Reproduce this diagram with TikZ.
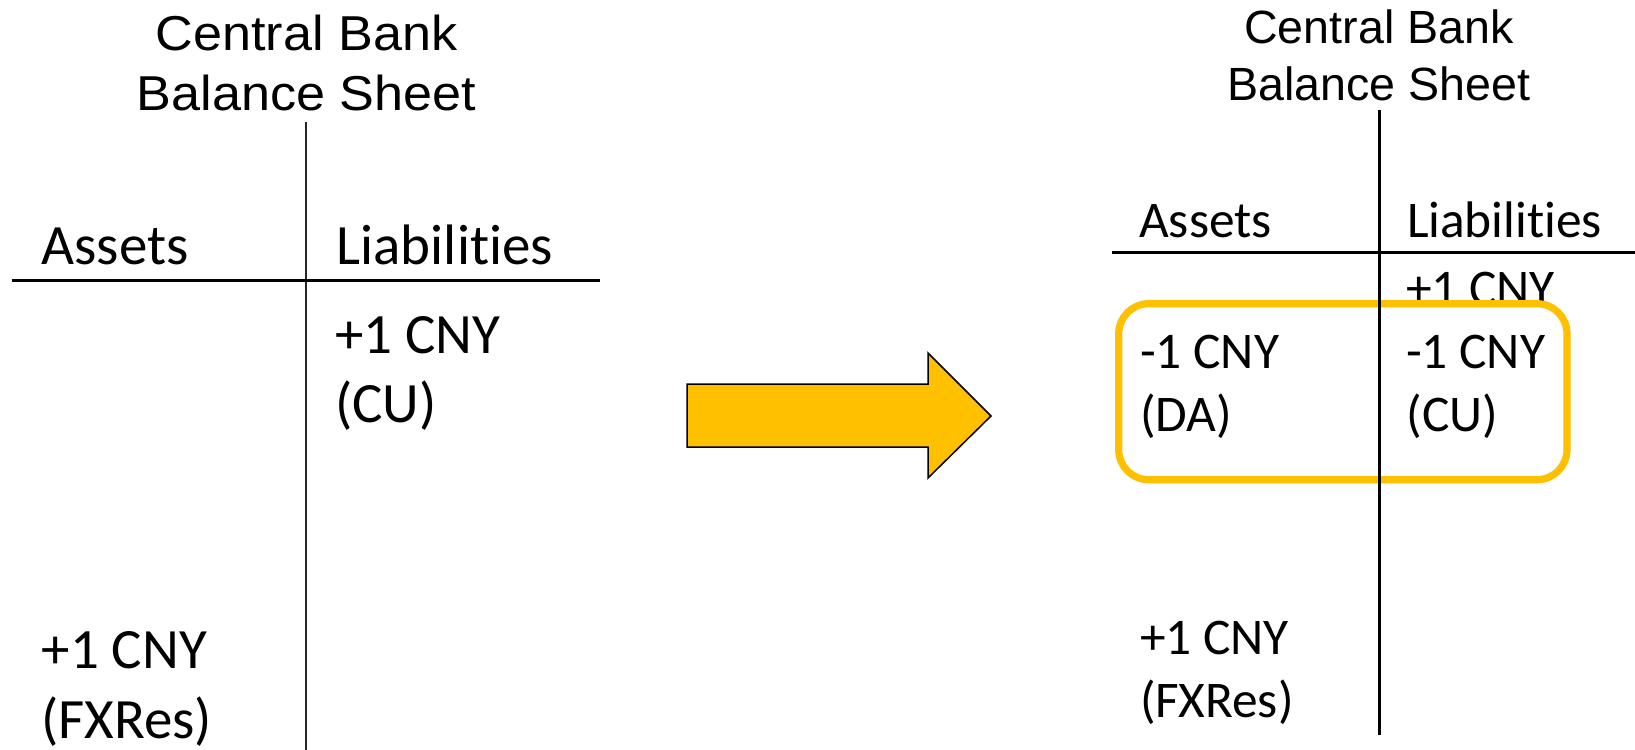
\documentclass[tikz,border=0pt]{standalone}
\usepackage{fontspec}
\setmainfont{Carlito}[Ligatures=NoCommon]
\newfontfamily\titlefont{Liberation Sans}
\definecolor{gold}{HTML}{FFC000}
\tikzset{
  txt/.style={inner sep=0pt, outer sep=0pt, anchor=base west},
  ttl/.style={inner sep=0pt, outer sep=0pt, anchor=base},
  rule/.style={line width=#1, line cap=butt},
}
% the sheet on the left is set larger, its heading a little wide
\newcommand{\bodyL}[1]{{\fontsize{28.5}{34}\selectfont #1}}
\newcommand{\titleL}[1]{\scalebox{1.065}[1]{\titlefont\fontsize{24.5}{29}\selectfont #1}}
\newcommand{\bodyR}[1]{{\fontsize{25.7}{31}\selectfont #1}}
\newcommand{\titleR}[1]{{\titlefont\fontsize{23.3}{28}\selectfont #1}}
\begin{document}
\begin{tikzpicture}[x=0.5pt,y=-0.5pt]
\fill[white] (0,0) rectangle (1635,750);
\useasboundingbox (0,0) rectangle (1635,750);

% ---------- balance sheet before ----------
\node[ttl] (lt1) at (306.5,50) {\titleL{Central Bank}};
\node[ttl] (lt2) at (306.5,110) {\titleL{Balance Sheet}};
\coordinate (lvtop) at (305.7,122);
\coordinate (lvbot) at (305.7,750);
\coordinate (lhl) at (11.7,280.7);
\coordinate (lhr) at (600,280.7);
\draw[rule=0.8pt, black!85] (lvtop) -- (lvbot);
\draw[rule=1.3pt] (lhl) -- (lhr);
\node[txt] (lassets) at (41.7,264) {\bodyL{Assets}};
\node[txt] (lliab) at (336.7,264) {\bodyL{Liabilities}};
\node[txt] (lcu1) at (335,353.5) {\bodyL{+1 CNY}};
\node[txt] (lcu2) at (335,422.5) {\bodyL{(CU)}};
\node[txt] (lfx1) at (41.7,668.3) {\bodyL{+1 CNY}};
\node[txt] (lfx2) at (41.7,738.3) {\bodyL{(FXRes)}};

% ---------- transition arrow ----------
\draw[fill=gold, draw=black, line width=0.75pt, line join=miter]
  (687,384) -- (928,384) -- (928,353) -- (991,416) -- (928,478) -- (928,447) -- (687,447) -- cycle;

% ---------- balance sheet after ----------
\node[ttl] (rt1) at (1379,43.5) {\titleR{Central Bank}};
\node[ttl] (rt2) at (1379,100) {\titleR{Balance Sheet}};
\node[txt] (rcu0) at (1406,305) {\bodyR{+1 CNY}};
% highlighted pair of entries
\draw[gold, line width=3.6pt, fill=white, rounded corners=15pt]
  (1118.7,303.7) rectangle (1567,479.7);
\coordinate (rvtop) at (1379,110);
\coordinate (rvbot) at (1379,735);
\coordinate (rhl) at (1112,252.5);
\coordinate (rhr) at (1635,252.5);
\draw[rule=1.5pt] (rvtop) -- (rvbot);
\draw[rule=1.5pt] (rhl) -- (rhr);
\node[txt] (rassets) at (1139.2,237.5) {\bodyR{Assets}};
\node[txt] (rliab) at (1407,237.5) {\bodyR{Liabilities}};
\node[txt] (rda1) at (1140,368.3) {\bodyR{-1 CNY}};
\node[txt] (rda2) at (1140,431.7) {\bodyR{(DA)}};
\node[txt] (rcu1) at (1406,368.3) {\bodyR{-1 CNY}};
\node[txt] (rcu2) at (1406.7,431.7) {\bodyR{(CU)}};
\node[txt] (rfx1) at (1140,654) {\bodyR{+1 CNY}};
\node[txt] (rfx2) at (1140,717) {\bodyR{(FXRes)}};
\end{tikzpicture}
\end{document}
